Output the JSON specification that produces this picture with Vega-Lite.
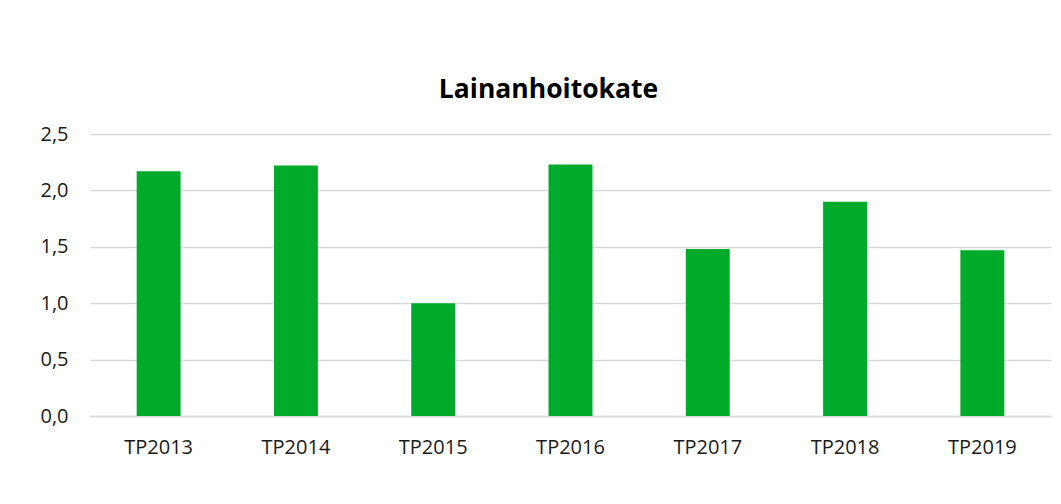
{
  "$schema": "https://vega.github.io/schema/vega-lite/v6.json",
  "autosize": {"type": "none"},
  "padding": {"left": 90, "top": 134, "right": 10, "bottom": 88},
  "width": 961,
  "height": 282,
  "background": "white",
  "title": {
    "text": "Lainanhoitokate",
    "font": "Open Sans",
    "fontSize": 26.5,
    "fontWeight": "bold",
    "color": "#000000",
    "anchor": "middle",
    "dx": -22,
    "offset": -6,
    "baseline": "bottom"
  },
  "data": {
    "values": [
      {"vuosi": "TP2013", "arvo": 2.17},
      {"vuosi": "TP2014", "arvo": 2.22},
      {"vuosi": "TP2015", "arvo": 1.0},
      {"vuosi": "TP2016", "arvo": 2.23},
      {"vuosi": "TP2017", "arvo": 1.48},
      {"vuosi": "TP2018", "arvo": 1.9},
      {"vuosi": "TP2019", "arvo": 1.47}
    ]
  },
  "mark": {"type": "bar", "color": "#00AA2A"},
  "encoding": {
    "x": {
      "field": "vuosi",
      "type": "nominal",
      "sort": null,
      "scale": {"paddingInner": 0.68, "paddingOuter": 0.34},
      "axis": {
        "title": null,
        "labelAngle": 0,
        "labelFont": "Open Sans",
        "labelFontSize": 20,
        "labelColor": "#1a1a1a",
        "labelPadding": 21,
        "ticks": false,
        "domainColor": "#D9D9D9",
        "domainWidth": 1.5,
        "grid": false
      }
    },
    "y": {
      "field": "arvo",
      "type": "quantitative",
      "scale": {"domain": [0, 2.5], "nice": false},
      "axis": {
        "title": null,
        "values": [0, 0.5, 1, 1.5, 2, 2.5],
        "labelExpr": "replace(format(datum.value, '.1f'), '.', ',')",
        "labelFont": "Open Sans",
        "labelFontSize": 20,
        "labelColor": "#1a1a1a",
        "labelPadding": 22,
        "ticks": false,
        "domain": false,
        "grid": true,
        "gridColor": "#D9D9D9",
        "gridWidth": 1.5
      }
    }
  },
  "config": {
    "view": {"stroke": null}
  }
}
